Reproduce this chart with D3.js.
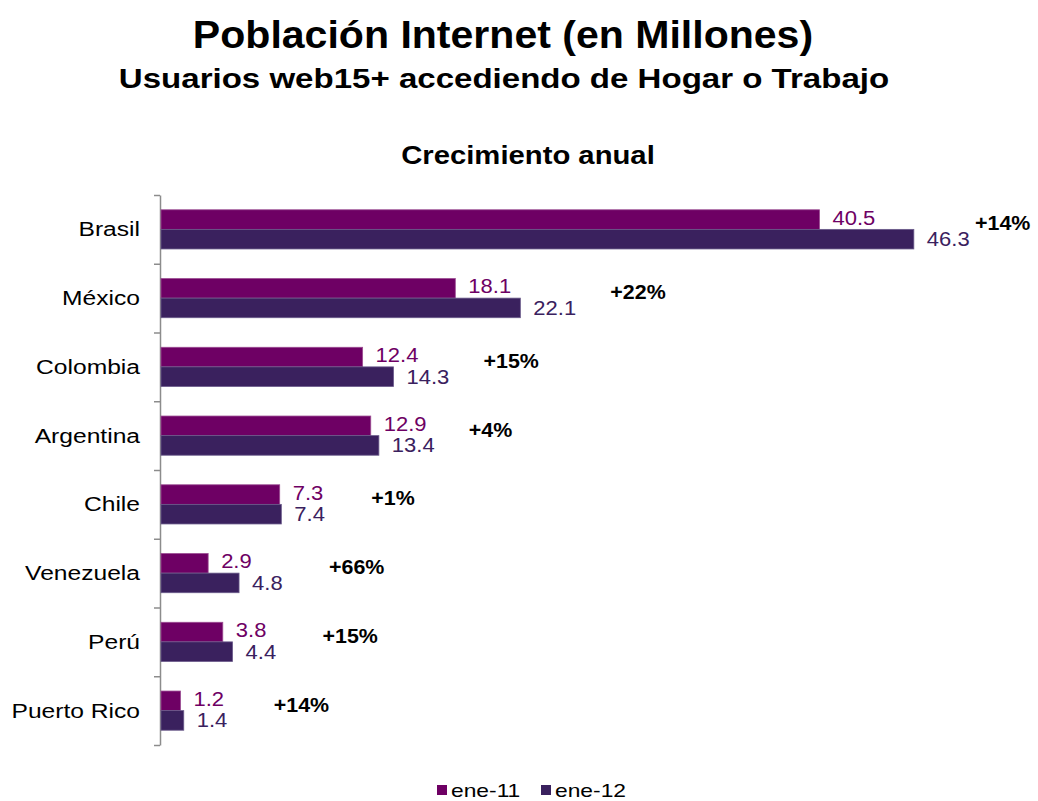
<!DOCTYPE html>
<html>
<head>
<meta charset="utf-8">
<script src="https://cdn.jsdelivr.net/npm/d3@7"></script>
<style>
  body { margin: 0; background: #fff; }
  text { font-family: "Liberation Sans", Arial, sans-serif; }
</style>
</head>
<body>
<div id="chart"></div>
<script>
const countries = ['Brasil', 'México', 'Colombia', 'Argentina', 'Chile', 'Venezuela', 'Perú', 'Puerto Rico']
const ene11 = [40.5, 18.1, 12.4, 12.9, 7.3, 2.9, 3.8, 1.2]
const ene12 = [46.3, 22.1, 14.3, 13.4, 7.4, 4.8, 4.4, 1.4]
const growth = ['+14%', '+22%', '+15%', '+4%', '+1%', '+66%', '+15%', '+14%']
const seriesNames = ['ene-11', 'ene-12']
const colors = ['#6e0064', '#3a215e']

const dms = {
  width: 1038,
  height: 801,
  margin: { top: 195, right: 64, bottom: 56, left: 161 }
}
dms.contentWidth = dms.width - dms.margin.left - dms.margin.right
dms.contentHeight = dms.height - dms.margin.top - dms.margin.bottom

const svg = d3.select('#chart').append('svg')
  .attr('width', dms.width)
  .attr('height', dms.height)

// stretch text horizontally a bit, the original looks widened
const stretch = (sel, k) => sel.each(function () {
  const w = this.getComputedTextLength()
  d3.select(this).attr('textLength', w * k).attr('lengthAdjust', 'spacingAndGlyphs')
})

svg.append('text')
  .attr('x', 503).attr('y', 48)
  .attr('text-anchor', 'middle')
  .style('font-size', '38px').style('font-weight', 'bold')
  .text('Población Internet (en Millones)')
  .call(stretch, 1.08)

svg.append('text')
  .attr('x', 504).attr('y', 88)
  .attr('text-anchor', 'middle')
  .style('font-size', '28px').style('font-weight', 'bold')
  .text('Usuarios web15+ accediendo de Hogar o Trabajo')
  .call(stretch, 1.18)

svg.append('text')
  .attr('x', 528).attr('y', 164)
  .attr('text-anchor', 'middle')
  .style('font-size', '25px').style('font-weight', 'bold')
  .text('Crecimiento anual')
  .call(stretch, 1.17)

const content = svg.append('g')
  .attr('transform', `translate(${dms.margin.left},${dms.margin.top})`)

const data = countries.map((c, i) => ({ country: c, values: [ene11[i], ene12[i]], growth: growth[i] }))

const xScale = d3.scaleLinear()
  .domain([0, 50])
  .range([0, 813])

const yScale = d3.scaleBand()
  .domain(countries)
  .range([0, dms.contentHeight])
  .paddingInner(0.43)
  .paddingOuter(0.215)

const subScale = d3.scaleBand()
  .domain(seriesNames)
  .range([0, yScale.bandwidth()])

// axis with ticks between the categories
const tickScale = d3.scaleLinear()
  .domain([0, countries.length])
  .range([0, dms.contentHeight])

const yAxis = content.append('g')
  .attr('transform', 'translate(-1,0)')
  .call(d3.axisLeft(tickScale)
    .tickValues(d3.range(countries.length + 1))
    .tickFormat('')
    .tickSize(6)
    .tickSizeOuter(0))
yAxis.selectAll('line, path').attr('stroke', '#8c8c8c').attr('stroke-width', 1.5)

content.append('g').selectAll('text')
  .data(countries)
  .join('text')
  .attr('x', -21)
  .attr('y', d => tickScale(countries.indexOf(d) + 0.5))
  .attr('dy', '0.35em')
  .attr('text-anchor', 'end')
  .style('font-size', '20px')
  .style('fill', '#000')
  .text(d => d)
  .call(stretch, 1.23)

const groups = content.selectAll('.country')
  .data(data)
  .join('g')
  .attr('class', 'country')
  .attr('transform', d => `translate(0,${yScale(d.country)})`)

groups.selectAll('rect')
  .data(d => d.values.map((v, i) => ({ key: seriesNames[i], value: v, i })))
  .join('rect')
  .attr('x', 0)
  .attr('y', d => subScale(d.key))
  .attr('width', d => xScale(d.value))
  .attr('height', subScale.bandwidth())
  .attr('fill', d => colors[d.i])
  .attr('stroke', d => d.i === 0 ? '#9b4c92' : '#6a5a8a')
  .attr('stroke-width', 0.8)

groups.selectAll('.val')
  .data(d => d.values.map((v, i) => ({ key: seriesNames[i], value: v, i })))
  .join('text')
  .attr('class', 'val')
  .attr('x', d => xScale(d.value) + 13)
  .attr('y', d => subScale(d.key) + subScale.bandwidth() / 2 + (d.i === 0 ? -2 : 0))
  .attr('dy', '0.35em')
  .style('font-size', '20px')
  .style('fill', d => colors[d.i])
  .text(d => d.value.toFixed(1))
  .call(stretch, 1.1)

groups.append('text')
  .attr('x', d => Math.min(xScale(d.values[1]) + 90, 814))
  .attr('y', yScale.bandwidth() / 2 - 6)
  .attr('dy', '0.35em')
  .style('font-size', '20px')
  .style('font-weight', 'bold')
  .style('fill', '#000')
  .text(d => d.growth)
  .call(stretch, 1.07)

// legend
const legend = svg.append('g')
  .attr('transform', 'translate(437,790)')

const items = legend.selectAll('g')
  .data(seriesNames)
  .join('g')
  .attr('transform', (d, i) => `translate(${i * 104},0)`)

items.append('rect')
  .attr('x', 0).attr('y', -5)
  .attr('width', 10).attr('height', 10)
  .attr('fill', (d, i) => colors[i])

items.append('text')
  .attr('x', 14).attr('y', 0)
  .attr('dy', '0.35em')
  .style('font-size', '19px')
  .text(d => d)
  .call(stretch, 1.2)
</script>
</body>
</html>
